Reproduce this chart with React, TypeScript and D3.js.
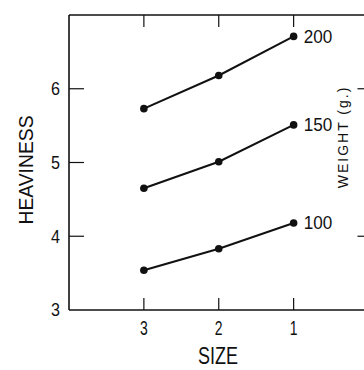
import React from "react";
import * as d3 from "d3";

const sizes = [3, 2, 1];
const weightLabels = ["200", "150", "100"];
const heaviness200 = [5.73, 6.18, 6.71];
const heaviness150 = [4.65, 5.01, 5.51];
const heaviness100 = [3.54, 3.83, 4.18];
const yTickValues = [3, 4, 5, 6];
const leftInnerTicks = [4, 5, 6];
const rightInnerTicks = [4, 6];
const xTickValues = [3, 2, 1];

const W = 364;
const H = 370;
const FONT = "'Liberation Sans', Arial, sans-serif";

export default function App() {
  const x = d3.scaleLinear().domain([4, 0]).range([69, 368.5]);
  const y = d3.scaleLinear().domain([3, 7]).range([310, 15]);
  const series = [heaviness200, heaviness150, heaviness100];
  const line = d3
    .line<number>()
    .x((_, i) => x(sizes[i]))
    .y((d) => y(d));

  const left = x(4);
  const right = x(0);
  const top = y(7);
  const bottom = y(3);

  return (
    <svg
      width={W}
      height={H}
      style={{ position: "absolute", left: 0, top: 0, background: "#fff" }}
    >
      <g stroke="#111" strokeWidth={1.6} fill="none">
        <line x1={left} x2={left} y1={top} y2={bottom} />
        <line x1={left} x2={right} y1={top} y2={top} />
        <line x1={left} x2={right} y1={bottom} y2={bottom} />
        <line x1={right} x2={right} y1={top} y2={bottom} />
      </g>
      {leftInnerTicks.map((t) => (
        <line key={"l" + t} x1={left} x2={left + 15} y1={y(t)} y2={y(t)} stroke="#111" strokeWidth={1.2} />
      ))}
      {rightInnerTicks.map((t) => (
        <line key={"r" + t} x1={right} x2={right - 11} y1={y(t)} y2={y(t)} stroke="#111" strokeWidth={1.2} />
      ))}
      {xTickValues.map((t) => (
        <g key={"x" + t} stroke="#111" strokeWidth={1.2}>
          <line x1={x(t)} x2={x(t)} y1={top} y2={top + 12} />
          <line x1={x(t)} x2={x(t)} y1={bottom} y2={bottom - 12} />
        </g>
      ))}
      {yTickValues.map((t) => (
        <text
          key={"yl" + t}
          transform={`translate(${60},${y(t)}) scale(0.85,1)`}
          textAnchor="end"
          dominantBaseline="central"
          fontFamily={FONT}
          fontSize={19}
          fill="#111"
        >
          {t}
        </text>
      ))}
      {xTickValues.map((t) => (
        <text
          key={"xl" + t}
          transform={`translate(${x(t)},${328}) scale(0.7,1)`}
          textAnchor="middle"
          dominantBaseline="central"
          fontFamily={FONT}
          fontSize={20}
          fill="#111"
        >
          {t}
        </text>
      ))}
      {series.map((s, si) => (
        <g key={"s" + si}>
          <path d={line(s) || ""} stroke="#111" strokeWidth={2} fill="none" />
          {s.map((v, i) => (
            <circle key={i} cx={x(sizes[i])} cy={y(v)} r={3.8} fill="#111" />
          ))}
          <text
            transform={`translate(${x(sizes[sizes.length - 1]) + 10},${y(s[s.length - 1])}) scale(0.9,1)`}
            dominantBaseline="central"
            fontFamily={FONT}
            fontSize={19}
            fill="#111"
          >
            {weightLabels[si]}
          </text>
        </g>
      ))}
      <text
        transform={`translate(${26},${170}) rotate(-90) scale(0.92,1)`}
        textAnchor="middle"
        dominantBaseline="central"
        fontFamily={FONT}
        fontSize={21}
        fill="#111"
      >
        HEAVINESS
      </text>
      <text
        transform={`translate(${218},${356}) scale(0.78,1)`}
        textAnchor="middle"
        dominantBaseline="central"
        fontFamily={FONT}
        fontSize={23}
        fill="#111"
      >
        SIZE
      </text>
      <text
        transform={`translate(${343},${137}) rotate(-90)`}
        textAnchor="middle"
        dominantBaseline="central"
        fontFamily={FONT}
        fontSize={14}
        letterSpacing={2}
        fill="#111"
      >
        WEIGHT (g.)
      </text>
    </svg>
  );
}
